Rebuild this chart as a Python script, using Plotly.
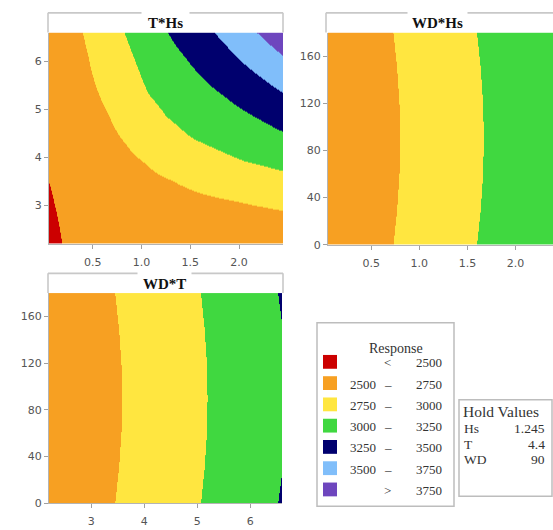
import plotly.graph_objects as go

# ---------------- data ----------------
# Panel "T*Hs" (WD held at 90): response read on an Hs x T grid (rows = T)
hs_nodes_1 = [0.05, 0.25, 0.45, 0.65, 0.85, 1.05, 1.25, 1.45, 1.65, 1.85, 2.05, 2.25, 2.45]
t_nodes_1 = [2.2, 2.64, 3.08, 3.52, 3.96, 4.4, 4.84, 5.28, 5.72, 6.16, 6.6]
resp_t_hs = [
    [2400, 2556, 2556, 2556, 2556, 2556, 2556, 2556, 2556, 2556, 2556, 2556, 2556],
    [2440, 2569, 2578, 2588, 2598, 2607, 2617, 2626, 2636, 2646, 2655, 2665, 2681],
    [2475, 2581, 2600, 2619, 2639, 2658, 2677, 2697, 2716, 2735, 2756, 2779, 2800],
    [2503, 2593, 2622, 2651, 2680, 2709, 2738, 2775, 2814, 2849, 2881, 2910, 2937],
    [2566, 2605, 2644, 2682, 2721, 2764, 2824, 2879, 2924, 2967, 3006, 3037, 3072],
    [2568, 2617, 2665, 2714, 2765, 2839, 2917, 2982, 3026, 3068, 3112, 3157, 3206],
    [2571, 2629, 2687, 2745, 2816, 2914, 2998, 3057, 3107, 3161, 3217, 3278, 3342],
    [2573, 2641, 2709, 2782, 2867, 2989, 3065, 3126, 3189, 3255, 3328, 3403, 3480],
    [2576, 2653, 2731, 2820, 2917, 3043, 3124, 3195, 3272, 3354, 3440, 3529, 3622],
    [2578, 2665, 2753, 2858, 2968, 3094, 3183, 3266, 3359, 3454, 3555, 3659, 3764],
    [2581, 2677, 2779, 2896, 3018, 3145, 3241, 3342, 3447, 3558, 3674, 3791, 3909],
]

# Panel "WD*Hs" (T held at 4.4): rows = WD
hs_nodes_2 = [0.05, 0.5, 1.0, 1.5, 2.0, 2.45]
wd_nodes_2 = [0, 30, 60, 90, 120, 150, 180]
resp_wd_hs = [
    [2554, 2684, 2828, 2972, 3116, 3245],
    [2543, 2673, 2817, 2961, 3105, 3234],
    [2536, 2666, 2810, 2954, 3098, 3227],
    [2534, 2664, 2808, 2952, 3096, 3225],
    [2536, 2666, 2810, 2954, 3098, 3227],
    [2543, 2673, 2817, 2961, 3105, 3234],
    [2554, 2684, 2828, 2972, 3116, 3245],
]

# Panel "WD*T" (Hs held at 1.245): rows = WD
t_nodes_3 = [2.2, 2.75, 3.3, 3.85, 4.4, 4.95, 5.5, 6.05, 6.6]
wd_nodes_3 = [0, 30, 60, 90, 120, 150, 180]
resp_wd_t = [
    [2568, 2647, 2728, 2811, 2896, 2983, 3072, 3163, 3265],
    [2557, 2636, 2717, 2800, 2885, 2972, 3061, 3152, 3249],
    [2550, 2629, 2710, 2793, 2878, 2965, 3054, 3145, 3238],
    [2548, 2627, 2708, 2791, 2876, 2963, 3052, 3143, 3236],
    [2550, 2629, 2710, 2793, 2878, 2965, 3054, 3145, 3238],
    [2557, 2636, 2717, 2800, 2885, 2972, 3061, 3152, 3249],
    [2568, 2647, 2728, 2811, 2896, 2983, 3072, 3163, 3265],
]

# response bands: below 2500, 2500-2750, ..., above 3750
band_edges = [2250, 2500, 2750, 3000, 3250, 3500, 3750, 4000]
legend_low = ["", "2500", "2750", "3000", "3250", "3500", ""]
legend_mid = ["<", "\u2013", "\u2013", "\u2013", "\u2013", "\u2013", ">"]
legend_high = ["2500", "2750", "3000", "3250", "3500", "3750", "3750"]

panel_titles = ["T*Hs", "WD*Hs", "WD*T"]
hold_names = ["Hs", "T", "WD"]
hold_values = ["1.245", "4.4", "90"]

hs_ticks = [0.5, 1.0, 1.5, 2.0]
hs_ticktext = ["0.5", "1.0", "1.5", "2.0"]
t_ticks = [3, 4, 5, 6]
wd_ticks = [0, 40, 80, 120, 160]

# ---------------- style ----------------
band_colors = ["#CC0000", "#F7A022", "#FFE640", "#40D840",
               "#00006E", "#80BEFA", "#6E46BE"]
W, H = 553, 530


def px(x):
    return x / W


def py(y):
    return 1 - y / H


# stepped colour scale: one flat colour per response band
nb = len(band_colors)
scale = []
for i, c in enumerate(band_colors):
    scale.append([i / nb, c])
    scale.append([(i + 1) / nb, c])

fig = go.Figure()
for xs, ys, zs, xa, ya in [
    (hs_nodes_1, t_nodes_1, resp_t_hs, "x", "y"),
    (hs_nodes_2, wd_nodes_2, resp_wd_hs, "x2", "y2"),
    (t_nodes_3, wd_nodes_3, resp_wd_t, "x3", "y3"),
]:
    fig.add_trace(go.Heatmap(
        x=xs, y=ys, z=zs, zsmooth="best", zmin=band_edges[0], zmax=band_edges[-1],
        colorscale=scale, showscale=False, xaxis=xa, yaxis=ya, hoverinfo="skip"))

tickfont = dict(family="DejaVu Sans", size=11, color="#555555")
axis_common = dict(showline=True, linecolor="#b4b4b4", linewidth=1,
                   ticks="outside", ticklen=4, tickcolor="#a0a0a0",
                   tickfont=tickfont, showgrid=False, zeroline=False,
                   fixedrange=True)
xaxis_extra = dict(ticklabelstandoff=4)

fig.update_layout(
    width=W, height=H, margin=dict(l=0, r=0, t=0, b=0),
    paper_bgcolor="white", plot_bgcolor="white", showlegend=False,
    xaxis=dict(domain=[px(49), px(283)], range=[0.05, 2.45], anchor="y",
               tickvals=hs_ticks, ticktext=hs_ticktext, **axis_common, **xaxis_extra),
    yaxis=dict(domain=[py(247), py(33)], range=[2.2, 6.6], anchor="x",
               tickvals=t_ticks, **axis_common),
    xaxis2=dict(domain=[px(328), 1.0], range=[0.05, 2.39], anchor="y2",
                tickvals=hs_ticks, ticktext=hs_ticktext, **axis_common, **xaxis_extra),
    yaxis2=dict(domain=[py(248), py(33)], range=[0, 180], anchor="x2",
                tickvals=wd_ticks, **axis_common),
    xaxis3=dict(domain=[px(49), px(282)], range=[2.2, 6.6], anchor="y3",
                tickvals=t_ticks, **axis_common, **xaxis_extra),
    yaxis3=dict(domain=[py(510), py(297)], range=[0, 180], anchor="x3",
                tickvals=wd_ticks, **axis_common),
)

shapes = []
annotations = []
border = dict(color="#c8c8c8", width=1.6)

# panel header boxes: (left, right, top, bottom, title center, gap half-width)
headers = [(48, 283, 13, 33, 165.5, 24),
           (326, 556, 13, 33, 437.5, 30),
           (48, 283, 277, 297, 164.5, 27)]
for (x0, x1, y0, y1, cx, gw), title in zip(headers, panel_titles):
    shapes.append(dict(type="rect", xref="paper", yref="paper",
                       x0=px(x0), x1=px(x1), y0=py(y1), y1=py(y0),
                       fillcolor="white", line=dict(width=0), layer="below"))
    for a, b in [(x0, cx - gw), (cx + gw, x1)]:
        shapes.append(dict(type="line", xref="paper", yref="paper",
                           x0=px(a), x1=px(b), y0=py(y0), y1=py(y0), line=border))
    for xx in (x0, x1):
        shapes.append(dict(type="line", xref="paper", yref="paper",
                           x0=px(xx), x1=px(xx), y0=py(y0), y1=py(y1), line=border))
    annotations.append(dict(text="<b>" + title + "</b>", xref="paper", yref="paper",
                            x=px(cx), y=py((y0 + y1) / 2 + 0.5), showarrow=False,
                            xanchor="center", yanchor="middle",
                            font=dict(family="Liberation Serif", size=15, color="#111111")))

# legend box
serif = "Liberation Serif"
shapes.append(dict(type="rect", xref="paper", yref="paper",
                   x0=px(317), x1=px(454), y0=py(513), y1=py(327),
                   line=dict(color="#bdbdbd", width=1.5), fillcolor="white"))
annotations.append(dict(text="Response", xref="paper", yref="paper",
                        x=px(396), y=py(353.5), showarrow=False,
                        xanchor="center", yanchor="middle",
                        font=dict(family=serif, size=14, color="#333333")))
for i, col in enumerate(band_colors):
    yc = 366.7 + i * 21.55
    shapes.append(dict(type="rect", xref="paper", yref="paper",
                       x0=px(323), x1=px(337), y0=py(yc + 7), y1=py(yc - 7),
                       fillcolor=col, line=dict(width=0)))
    for txt, xx, anc in [(legend_low[i], 348, "left"),
                         (legend_mid[i], 388, "center"),
                         (legend_high[i], 443.5, "right")]:
        if txt:
            annotations.append(dict(text=txt, xref="paper", yref="paper",
                                    x=px(xx), y=py(yc + 1), showarrow=False,
                                    xanchor=anc, yanchor="middle",
                                    font=dict(family=serif, size=13, color="#333333")))

# hold values box
shapes.append(dict(type="rect", xref="paper", yref="paper",
                   x0=px(459), x1=px(552), y0=py(503), y1=py(405),
                   line=dict(color="#bdbdbd", width=1.5), fillcolor="white"))
annotations.append(dict(text="Hold Values", xref="paper", yref="paper",
                        x=px(461), y=py(417), showarrow=False,
                        xanchor="left", yanchor="middle",
                        font=dict(family=serif, size=15.5, color="#333333")))
for i, (nm, val) in enumerate(zip(hold_names, hold_values)):
    yc = 434 + i * 16
    annotations.append(dict(text=nm, xref="paper", yref="paper",
                            x=px(462), y=py(yc), showarrow=False,
                            xanchor="left", yanchor="middle",
                            font=dict(family=serif, size=13.5, color="#333333")))
    annotations.append(dict(text=val, xref="paper", yref="paper",
                            x=px(547), y=py(yc), showarrow=False,
                            xanchor="right", yanchor="middle",
                            font=dict(family=serif, size=13.5, color="#333333")))

fig.update_layout(shapes=shapes, annotations=annotations)
fig.write_html("out.html", config={"displayModeBar": False},
               post_script="document.body.style.margin='0';")
